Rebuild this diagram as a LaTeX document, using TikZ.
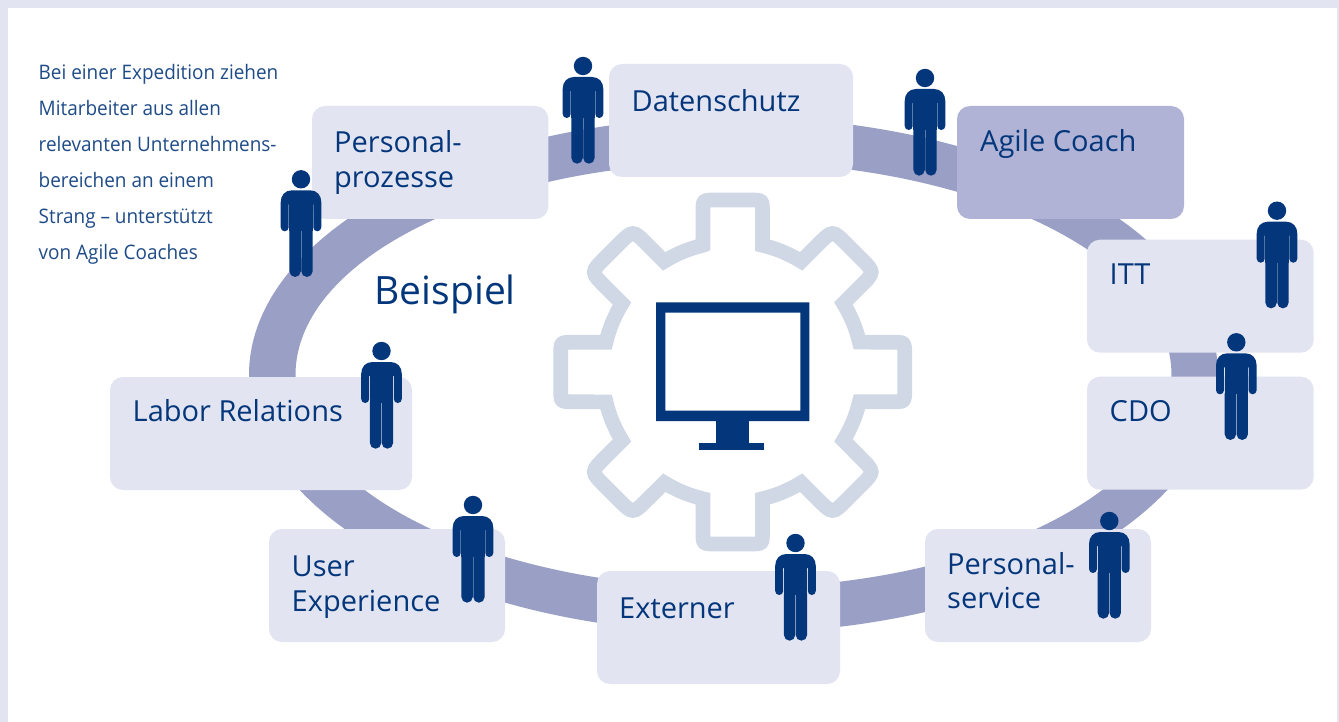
\documentclass[tikz,border=0pt]{standalone}
\usepackage{fontspec}
\setmainfont{Open Sans}
\newfontfamily\sidefont[FakeStretch=0.947]{Open Sans}
\definecolor{frameblue}{HTML}{E2E4F1}
\definecolor{ringblue}{HTML}{9A9FC6}
\definecolor{coachblue}{HTML}{B0B3D5}
\definecolor{inkblue}{HTML}{03367A}
\definecolor{sideblue}{HTML}{1F4C88}
\definecolor{gearblue}{HTML}{CFD8E4}
\tikzset{
  x=1pt,y=-1pt,
  card/.style={fill=#1,rounded corners=13pt,draw=none},
  card/.default=frameblue,
  lab/.style={anchor=base west,inner sep=0pt,text=inkblue,font=\fontsize{29}{35}\selectfont},
  person/.pic={
    \fill[inkblue] (0,0) circle[radius=9.2];
    \fill[inkblue] (-9,11) -- (9,11) .. controls (16,11) and (20.3,16) .. (20.3,23)
      -- (20.3,48) arc[start angle=0,end angle=180,radius=4]
      -- (12.3,25) -- (-12.3,25) -- (-12.3,48) arc[start angle=0,end angle=180,radius=4]
      -- (-20.3,23) .. controls (-20.3,16) and (-16,11) .. (-9,11) -- cycle;
    \fill[inkblue] (-11.6,20) rectangle (11.6,52);
    \fill[inkblue] (-11.6,51) -- (-0.25,51) -- (-0.25,92) arc[start angle=0,end angle=180,radius=5.675] -- cycle;
    \fill[inkblue] (11.6,51) -- (0.25,51) -- (0.25,92) arc[start angle=180,end angle=0,radius=5.675] -- cycle;
  }
}
\begin{document}
\begin{tikzpicture}
\useasboundingbox (0,0) rectangle (1339,722);
\fill[frameblue] (0,0) rectangle (1339,722);
\fill[white] (8,8) rectangle (1337,722);
% ring
\fill[ringblue,even odd rule] (733.5,375) ellipse[x radius=484.5,y radius=258]
  (733.5,375) ellipse[x radius=438,y radius=213];
% gear
\begin{scope}[shift={(732.7,372)},x=1pt,y=1pt]
\draw[gearblue,line width=14.7pt,line join=miter]
  (-29.8,126.7)
  foreach \c/\r/\h in {0/12/172,-45/20/171,-90/12/172,-135/20/171,-180/12/172,-225/20/171,-270/12/172,-315/20/171} {
    -- ([rotate=\c]-29.8,\h-\r) .. controls ([rotate=\c]-29.8,\h) .. ([rotate=\c]-29.8+\r,\h)
    -- ([rotate=\c]29.8-\r,\h) .. controls ([rotate=\c]29.8,\h) .. ([rotate=\c]29.8,\h-\r)
    -- ([rotate=\c]29.8,126.7)
    arc[start angle={90+\c-13.25},delta angle=-18.5,radius=130.1]
  } -- cycle;
\end{scope}
% monitor
\fill[inkblue,even odd rule] (656,302.3) rectangle (809.3,421) (665.3,312.7) rectangle (800.3,410.7);
\fill[inkblue] (716,420) rectangle (749.3,443);
\fill[inkblue] (698.7,442.7) rectangle (763.7,450.3);
% cards
\path[card] (312,106) rectangle (548.3,219);
\path[card] (609,64) rectangle (853,177);
\path[card=coachblue] (957,106) rectangle (1184,219);
\path[card] (1087,239.7) rectangle (1313.7,352.7);
\path[card] (1087,376.7) rectangle (1313.7,489.7);
\path[card] (110,377) rectangle (412,490);
\path[card] (269,529) rectangle (505,642);
\path[card] (597,571) rectangle (840,684);
\path[card] (925,529) rectangle (1151,642);
% labels
\node[lab] (pp1) at (334,153) {Personal-};
\node[lab] (pp2) at (334,188) {prozesse};
\node[lab] (ds) at (631.5,112) {Datenschutz};
\node[lab] (ac) at (980,152) {Agile Coach};
\node[lab] (itt) at (1109.5,284) {ITT};
\node[lab] (cdo) at (1109.5,421) {CDO};
\node[lab] (lr) at (132.5,421) {Labor Relations};
\node[lab] (ue1) at (291.5,576) {User};
\node[lab] (ue2) at (291.5,611) {Experience};
\node[lab] (ex) at (619,618) {Externer};
\node[lab] (ps1) at (947,574) {Personal-};
\node[lab] (ps2) at (947,608) {service};
\node[lab,font=\fontsize{39}{44}\selectfont] (bsp) at (374.5,305) {Beispiel};
\foreach \t [count=\i] in {Bei einer Expedition ziehen,Mitarbeiter aus allen,relevanten Unternehmens-,bereichen an einem,Strang – unterstützt,von Agile Coaches}
  \node[anchor=base west,inner sep=0pt,text=sideblue,font=\sidefont\fontsize{20}{24}\selectfont] (side\i) at (38.5,{44+36*\i}) {\t};
% people
\foreach \px/\py in {583/66,925/78,301/179.3,1277/210.7,1236.3/342.3,381.5/351,473/505,795.5/543,1109.3/521}
  \pic at (\px,\py) {person};
\end{tikzpicture}
\end{document}
